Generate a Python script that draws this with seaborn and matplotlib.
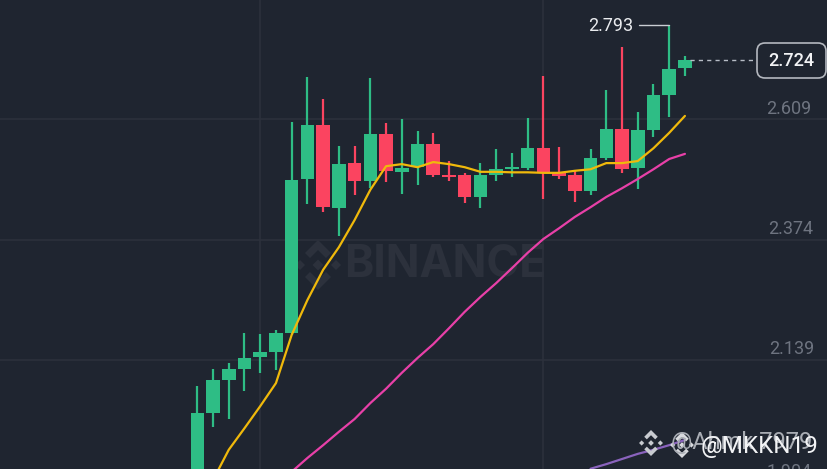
import matplotlib
matplotlib.use("Agg")
import matplotlib.pyplot as plt
from matplotlib.patches import Polygon, FancyBboxPatch
import numpy as np
import pandas as pd
import seaborn as sns

opens = [1.866,2.036,2.100,2.122,2.145,2.155,2.192,2.492,2.597,2.435,2.523,2.488,2.580,2.506,2.515,2.560,
         2.500,2.500,2.457,2.500,2.511,2.513,2.552,2.504,2.500,2.469,2.533,2.590,2.513,2.588,2.656,2.708]
closes = [2.036,2.100,2.122,2.143,2.155,2.192,2.490,2.597,2.437,2.521,2.488,2.580,2.508,2.513,2.560,2.500,
          2.496,2.457,2.500,2.511,2.515,2.552,2.506,2.498,2.469,2.533,2.590,2.511,2.588,2.656,2.707,2.724]
highs = [2.088,2.122,2.133,2.192,2.190,2.198,2.603,2.691,2.648,2.556,2.556,2.689,2.601,2.609,2.586,2.582,
         2.527,2.504,2.523,2.550,2.543,2.611,2.693,2.554,2.508,2.550,2.666,2.749,2.623,2.677,2.793,2.732]
lows = [1.850,2.008,2.024,2.079,2.114,2.120,2.188,2.443,2.428,2.381,2.461,2.474,2.486,2.463,2.480,2.496,
        2.488,2.445,2.435,2.488,2.496,2.510,2.453,2.492,2.447,2.461,2.529,2.504,2.473,2.574,2.613,2.693]
ma7 = [1.846,1.905,1.964,2.006,2.049,2.094,2.188,2.256,2.315,2.359,2.412,2.471,2.517,2.521,2.515,2.525,
       2.521,2.515,2.506,2.506,2.505,2.505,2.504,2.504,2.508,2.511,2.523,2.523,2.527,2.552,2.582,2.615]
ma25 = [1.921,1.948,1.973,1.999,2.024,2.055,2.083,2.114,2.143,2.170,2.201,2.233,2.262,2.289,2.318,2.348,
        2.375,2.396,2.418,2.437,2.457,2.474,2.492,2.511,2.531,2.541]
ma99 = [1.927,1.936,1.946,1.956,1.964,1.973,1.983]
grid_prices = [2.609, 2.374, 2.139, 1.904]
grid_labels = ["2.609", "2.374", "2.139", "1.904"]
last_price = 2.724
peak_price = 2.793

BG, GREEN, RED = "#1f2530", "#2ebd85", "#fb4460"
GRID = "#2c313c"
FONT = "Roboto"

sns.set_theme(style="dark", rc={"axes.facecolor": BG, "figure.facecolor": BG})
plt.rcParams["font.family"] = [FONT, "DejaVu Sans"]

fig = plt.figure(figsize=(8.28, 4.69), dpi=100)


def pixel_axes(z):
    a = fig.add_axes([0, 0, 1, 1], facecolor="none")
    a.set_xlim(0, 828)
    a.set_ylim(469, 0)
    a.axis("off")
    a.set_zorder(z)
    return a


under = pixel_axes(0)
ax = fig.add_axes([0, 0, 1, 1], facecolor="none")
ax.set_zorder(1)
over = pixel_axes(2)

SP = 15.73
X0 = 197.3
ax.set_xlim(-X0 / SP, (828 - X0) / SP)
ax.set_ylim(2.609 - 350 * 0.00195, 2.609 + 119 * 0.00195)

for g in grid_prices:
    ax.axhline(g, color=GRID, lw=1.2, zorder=1)
for xv in [4, 22]:
    ax.axvline(xv, color=GRID, lw=1.2, zorder=1)


def logo(target, cx, cy, s, color, z=2):
    def diamond(x, y, r):
        return [(x, y - r), (x + r, y), (x, y + r), (x - r, y)]
    shapes = [
        diamond(cx, cy, 0.22 * s), diamond(cx - 0.72 * s, cy, 0.2 * s), diamond(cx + 0.72 * s, cy, 0.2 * s),
        [(cx, cy - s), (cx + 0.52 * s, cy - 0.48 * s), (cx + 0.32 * s, cy - 0.28 * s), (cx, cy - 0.6 * s),
         (cx - 0.32 * s, cy - 0.28 * s), (cx - 0.52 * s, cy - 0.48 * s)],
        [(cx, cy + s), (cx + 0.52 * s, cy + 0.48 * s), (cx + 0.32 * s, cy + 0.28 * s), (cx, cy + 0.6 * s),
         (cx - 0.32 * s, cy + 0.28 * s), (cx - 0.52 * s, cy + 0.48 * s)],
    ]
    for sh in shapes:
        target.add_patch(Polygon(sh, closed=True, facecolor=color, edgecolor="none", zorder=z))


logo(under, 318, 265, 25, "#2c313c")
under.text(344, 265, "BINANCE", color="#2c313c", fontsize=32, fontweight="bold",
           family=["Inter", "DejaVu Sans"], va="center", ha="left")

idx = np.arange(len(opens))
o, c, h, l = map(np.array, (opens, closes, highs, lows))
colors = np.where(c >= o, GREEN, RED)
ax.vlines(idx, l, h, colors=colors, lw=1.6, zorder=3)
ax.bar(idx, np.abs(c - o), bottom=np.minimum(o, c), width=0.86, color=colors, linewidth=0, zorder=3)

lines = pd.concat([
    pd.DataFrame({"i": idx, "price": ma7, "ma": "MA7"}),
    pd.DataFrame({"i": idx[-len(ma25):], "price": ma25, "ma": "MA25"}),
    pd.DataFrame({"i": idx[-len(ma99):], "price": ma99, "ma": "MA99"}),
])
sns.lineplot(data=lines, x="i", y="price", hue="ma", ax=ax, legend=False, lw=1.6, zorder=4, estimator=None,
             palette={"MA7": "#f0b90b", "MA25": "#e840a8", "MA99": "#8a63bd"})
ax.axis("off")

# right-hand price scale labels, printed inside the plot
label_px = [(811, 109), (813, 229.5), (814, 349), (812, 472)]
for (xp, yp), t in zip(label_px, grid_labels):
    over.text(xp, yp, t, color="#6e7480", fontsize=13, ha="right", va="center")

# peak annotation
ax.plot([30, 30 - 1.95], [peak_price, peak_price], color="#c9cdd3", lw=1, zorder=5)
over.text(633, 26, f"{peak_price:.3f}", color="#eaecef", fontsize=13, ha="right", va="center")

# last price line and tag
ax.plot([31.3, 35.6], [last_price, last_price], color="#b7bdc6", lw=1, ls=(0, (3, 3)), zorder=5)
over.add_patch(FancyBboxPatch((757, 43), 69, 35, boxstyle="round,pad=0,rounding_size=8",
                              facecolor=BG, edgecolor="#b4b8bf", lw=1.2))
over.text(791.5, 61, f"{last_price:.3f}", color="#f2f3f5", fontsize=13, fontweight="medium", ha="center", va="center")

# overlapping watermarks
logo(over, 651, 443, 13, "#c8cbd0", z=7)
logo(over, 682, 445, 13, "#d8dade", z=7)
over.text(671, 443, "@Ahmk 7979", color="#a9adb4", fontsize=17, ha="left", va="center", zorder=7)
over.text(701, 447, "@MKKN19", color="#f2f3f5", fontsize=17.5, ha="left", va="center", zorder=8)

fig.savefig("out.png", dpi=100, facecolor=BG)
